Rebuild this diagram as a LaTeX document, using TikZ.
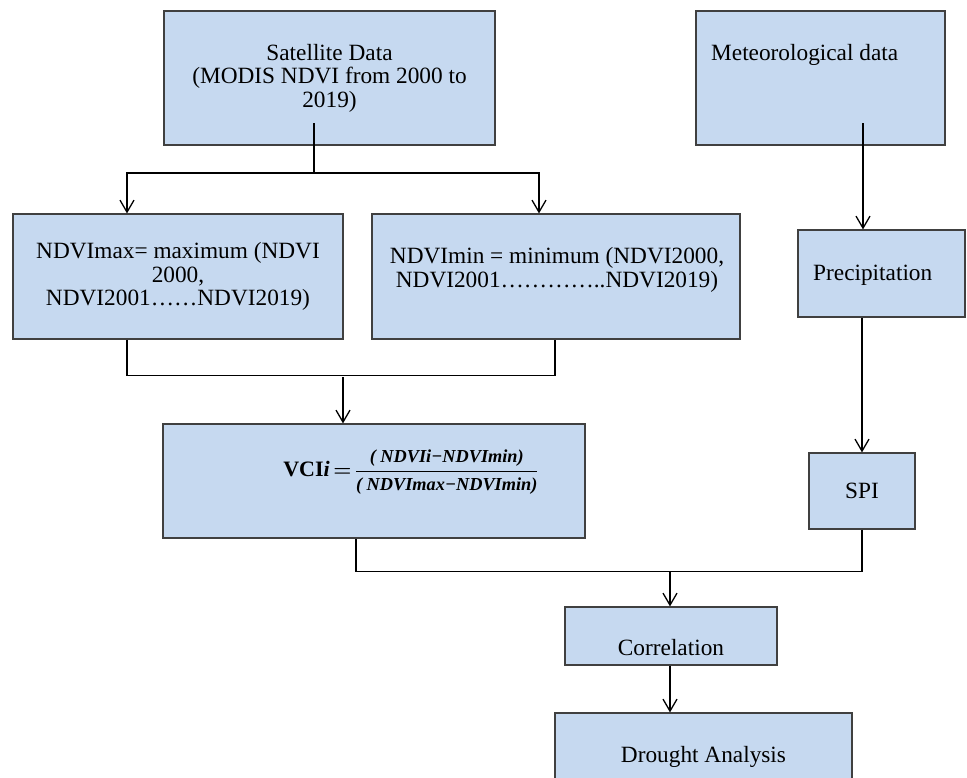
\documentclass[tikz,border=0pt]{standalone}
\usepackage{fontspec}
\setmainfont{Liberation Serif}
\usepackage{amsmath}
\usepackage{xcolor}
\usetikzlibrary{arrows.meta}

\definecolor{boxfill}{RGB}{198,217,240}
\definecolor{boxline}{RGB}{64,64,64}
\tikzset{
  flowbox/.style={draw=boxline, fill=boxfill, line width=1.2pt, inner sep=0pt,
    font=\fontsize{23.3}{23.5}\selectfont, align=center},
  boxtext/.style={inner sep=0pt, font=\fontsize{23.3}{23.5}\selectfont, align=center},
  conn/.style={line width=1.5pt, black},
  arr/.style={conn, -{Straight Barb[length=12pt,width=14pt,line width=1.3pt]}}
}

\begin{document}
\begin{tikzpicture}[x=1pt,y=1pt,yscale=-1,xscale=1]
  \path[use as bounding box] (0,0) rectangle (967,777);
  \clip (0,0) rectangle (967,777);

  %Shape: Rectangle [satellite]
  \node[flowbox, minimum width=331, minimum height=134] (sat) at (329.5,78)
    {Satellite Data\\(MODIS NDVI from 2000 to\\2019)};
  %Shape: Rectangle [meteorological]
  \node[flowbox, minimum width=249, minimum height=134] (met) at (820.5,78) {};
  %Shape: Rectangle [ndvi max]
  \node[flowbox, minimum width=330, minimum height=125] (nmax) at (178,276.5)
    {NDVImax= maximum (NDVI\\2000,\\NDVI2001……NDVI2019)};
  %Shape: Rectangle [ndvi min]
  \node[flowbox, minimum width=368, minimum height=125] (nmin) at (556,276.5) {};
  %Shape: Rectangle [precipitation]
  \node[flowbox, minimum width=167, minimum height=87] (prec) at (881.5,273.5) {};
  %Shape: Rectangle [vci]
  \node[flowbox, minimum width=422, minimum height=114] (vci) at (374,481) {};
  %Shape: Rectangle [spi]
  \node[flowbox, minimum width=106, minimum height=76] (spi) at (862,491) {SPI};
  %Shape: Rectangle [correlation]
  \node[flowbox, minimum width=212, minimum height=58] (cor) at (671,636) {};
  %Shape: Rectangle [drought]
  \node[flowbox, minimum width=297, minimum height=87] (dro) at (703.5,756.5) {Drought Analysis};

  % Text Node
  \node[boxtext, anchor=base west] (metlbl) at (711,60) {Meteorological data};
  % Text Node
  \node[boxtext] (nminlbl) at (557,270) {NDVImin = minimum (NDVI2000,\\NDVI2001…………..NDVI2019)};
  % Text Node
  \node[boxtext, anchor=base west] (preclbl) at (813,280) {Precipitation};
  % Text Node
  \node[boxtext, anchor=base] (corlbl) at (671,655) {Correlation};
  % Text Node
  \node[inner sep=0pt, font=\fontsize{22}{24}\selectfont] (vcilbl) at (411,472)
    {\textbf{VCI\textit{i}}$\,\boldsymbol{=}\,$$\dfrac{\text{\fontsize{18.3}{19}\selectfont\bfseries\itshape ( NDVIi−NDVImin)}}{\text{\fontsize{18.3}{19}\selectfont\bfseries\itshape ( NDVImax−NDVImin)}}$};

  % joints
  \coordinate (satout) at (314,123);
  \coordinate (fork1) at (314,173);
  \coordinate (leftin) at (127,173);
  \coordinate (rightin) at (539,173);
  \coordinate (minout) at (555,0);
  \coordinate (join2) at (343,377);
  \coordinate (metout) at (863,123);
  \coordinate (vciout) at (356,0);
  \coordinate (join3) at (670,571);

  %Straight Lines [satellite to both ndvi boxes]
  \draw[conn] (satout) -- (fork1);
  \draw[arr] (fork1) -| (nmax.north -| leftin);
  \draw[arr] (fork1) -| (nmin.north -| rightin);
  %Straight Lines [ndvi boxes to vci]
  \draw[conn] (nmax.south -| leftin) -- ++(0,36) -| (nmin.south -| minout);
  \draw[arr] (join2) -- (join2 |- vci.north);
  %Straight Lines [meteorological branch]
  \draw[arr] (metout) -- (metout |- prec.north);
  \draw[arr] (prec.south -| spi.north) -- (spi.north);
  %Straight Lines [vci and spi to correlation]
  \draw[conn] (spi.south) -- ++(0,42) -| (vci.south -| vciout);
  \draw[arr] (join3) -- (join3 |- cor.north);
  \draw[arr] (join3 |- cor.south) -- (join3 |- dro.north);
\end{tikzpicture}
\end{document}
